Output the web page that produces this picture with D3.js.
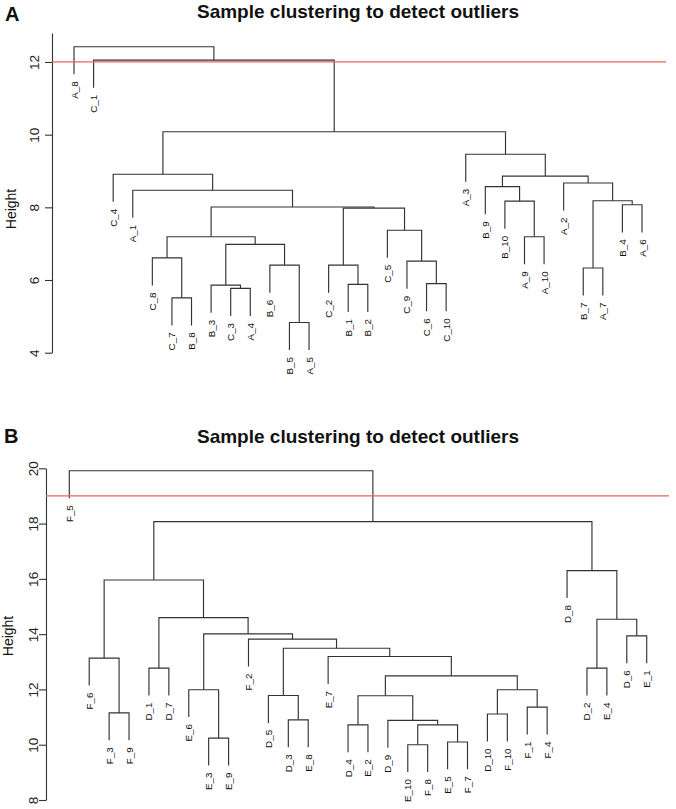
<!DOCTYPE html>
<html>
<head>
<meta charset="utf-8">
<script src="https://cdn.jsdelivr.net/npm/d3@7"></script>
<style>
  html, body { margin: 0; padding: 0; background: #fff; }
  svg { display: block; font-family: "Liberation Sans", Arial, sans-serif; }
</style>
</head>
<body>
<svg id="chart" width="676" height="809"></svg>
<script>
// ---------------- Data ----------------
const titleText = "Sample clustering to detect outliers";
const yLabel = "Height";

// Panel A
const leavesA = ["A_8","C_1","C_4","A_1","C_8","C_7","B_8","B_3","C_3","A_4","B_6","B_5","A_5",
  "C_2","B_1","B_2","C_5","C_9","C_6","C_10","A_3","B_9","B_10","A_9","A_10","A_2","B_7","A_7","B_4","A_6"];
const mergesA = [
  ["B_5","A_5"], ["C_7","B_8"], ["C_3","A_4"], ["B_3",2], ["B_1","B_2"], ["C_6","C_10"],
  ["A_9","A_10"], ["B_7","A_7"], ["C_2",4], ["B_6",0], ["C_9",5], ["C_8",1],
  [3,9], [11,12], ["C_5",10], [8,14], [13,15], ["A_1",16], ["C_4",17],
  ["B_4","A_6"], [7,19], ["A_2",20], ["B_10",6], ["B_9",22], [23,21], ["A_3",24],
  [18,25], ["C_1",26], ["A_8",27]
];
const heightsA = [
  4.83, 5.51, 5.77, 5.86, 5.88, 5.90,
  7.19, 6.33, 6.41, 6.41, 6.52, 6.61,
  6.98, 7.19, 7.37, 7.98, 8.01, 8.47, 8.91,
  8.07, 8.18, 8.67, 8.17, 8.57, 8.86, 9.46,
  10.08, 12.05, 12.42
];
const ticksA = [4, 6, 8, 10, 12];
const cutA = 12;

// Panel B
const leavesB = ["F_5","F_6","F_3","F_9","D_1","D_7","E_6","E_3","E_9","F_2","D_5","D_3","E_8","E_7",
  "D_4","E_2","D_9","E_10","F_8","E_5","F_7","D_10","F_10","F_1","F_4","D_8","D_2","E_4","D_6","E_1"];
const mergesB = [
  ["F_3","F_9"], ["F_6",0], ["D_1","D_7"], ["E_3","E_9"], ["E_6",3], ["D_3","E_8"],
  ["D_5",5], ["D_4","E_2"], ["E_10","F_8"], ["E_5","F_7"], [8,9], ["D_9",10],
  [7,11], ["D_10","F_10"], ["F_1","F_4"], [13,14], [12,15], ["E_7",16], [6,17],
  ["F_2",18], [4,19], [2,20], [1,21], ["D_2","E_4"], ["D_6","E_1"], [23,24],
  ["D_8",25], [22,26], ["F_5",27]
];
const heightsB = [
  11.15, 13.13, 12.77, 10.24, 11.99, 10.90,
  11.78, 10.72, 10.00, 10.10, 10.72, 10.88,
  11.77, 11.11, 11.36, 11.99, 12.49, 13.19, 13.49,
  13.82, 14.01, 14.60, 15.96, 12.77, 13.94, 14.54,
  16.30, 18.07, 19.91
];
const ticksB = [8, 10, 12, 14, 16, 18, 20];
const cutB = 19;

// ---------------- Drawing ----------------
const svg = d3.select("#chart");
svg.append("rect").attr("width", 676).attr("height", 809).attr("fill", "#fff");

function drawPanel(cfg) {
  const g = svg.append("g");
  const x = d3.scalePoint().domain(cfg.leaves).range(cfg.xRange);
  const y = d3.scaleLinear().domain(cfg.yDomain).range(cfg.yRange);
  const hang = 0.1 * (d3.max(cfg.heights) - d3.min(cfg.heights));

  const nodeX = [];
  const childX = c => (typeof c === "string") ? x(c) : nodeX[c];
  cfg.merges.forEach((m, i) => { nodeX[i] = (childX(m[0]) + childX(m[1])) / 2; });

  const childY = (c, h) => (typeof c === "string") ? y(h - hang) : y(cfg.heights[c]);

  const lines = g.append("g").attr("fill", "none").attr("stroke", "#333").attr("stroke-width", 1.15);
  cfg.merges.forEach((m, i) => {
    const h = cfg.heights[i];
    const p = d3.path();
    p.moveTo(childX(m[0]), childY(m[0], h));
    p.lineTo(childX(m[0]), y(h));
    p.lineTo(childX(m[1]), y(h));
    p.lineTo(childX(m[1]), childY(m[1], h));
    lines.append("path").attr("d", p.toString());
  });

  const leafParentH = {};
  cfg.merges.forEach((m, i) => m.forEach(c => { if (typeof c === "string") leafParentH[c] = cfg.heights[i]; }));
  g.append("g").selectAll("text").data(cfg.leaves).join("text")
    .attr("transform", d => `translate(${x(d)},${y(leafParentH[d] - hang) + cfg.labelGap}) rotate(-90)`)
    .attr("text-anchor", "end")
    .attr("dominant-baseline", "central")
    .attr("font-size", 9.8)
    .attr("fill", "#111")
    .text(d => d);

  const axis = d3.axisLeft(y).tickValues(cfg.ticks).tickSize(7).tickSizeOuter(0).tickFormat(d3.format("d"));
  const ax = g.append("g").attr("transform", `translate(${cfg.axisX},0)`).call(axis);
  ax.select(".domain").attr("stroke", "#333").attr("stroke-width", 1.1);
  ax.selectAll(".tick line").attr("stroke", "#333").attr("stroke-width", 1.1);
  ax.selectAll(".tick text")
    .attr("x", 0).attr("y", 0).attr("dy", null)
    .attr("transform", `translate(${cfg.tickLabelX - cfg.axisX},0) rotate(-90)`)
    .attr("text-anchor", "middle")
    .attr("dominant-baseline", "central")
    .attr("font-size", 13.5)
    .attr("font-family", "Liberation Sans, Arial, sans-serif")
    .attr("fill", "#222");

  g.append("line")
    .attr("x1", cfg.axisX).attr("x2", cfg.cutX2)
    .attr("y1", y(cfg.cut)).attr("y2", y(cfg.cut))
    .attr("stroke", "#e5655f").attr("stroke-width", 1.3);

  g.append("text")
    .attr("transform", `translate(${cfg.yLabelX},${cfg.yLabelY}) rotate(-90)`)
    .attr("text-anchor", "middle")
    .attr("dominant-baseline", "central")
    .attr("font-size", 14)
    .attr("fill", "#111")
    .text(yLabel);

  g.append("text")
    .attr("x", cfg.titleX).attr("y", cfg.titleY)
    .attr("text-anchor", "middle")
    .attr("font-size", 19).attr("font-weight", "bold")
    .attr("fill", "#111")
    .text(titleText);

  g.append("text")
    .attr("x", cfg.letterX).attr("y", cfg.letterY)
    .attr("font-size", 20).attr("font-weight", "bold")
    .attr("fill", "#111")
    .text(cfg.letter);
}

drawPanel({
  leaves: leavesA, merges: mergesA, heights: heightsA, ticks: ticksA, cut: cutA,
  xRange: [74, 642], yDomain: [4, 12.8], yRange: [352.7, 32.9],
  axisX: 52, tickLabelX: 34, cutX2: 666, labelGap: 7,
  yLabelX: 11, yLabelY: 209,
  titleX: 358, titleY: 18, letter: "A", letterX: 5, letterY: 21
});

drawPanel({
  leaves: leavesB, merges: mergesB, heights: heightsB, ticks: ticksB, cut: cutB,
  xRange: [69.3, 646.7], yDomain: [8, 20], yRange: [800, 468.3],
  axisX: 46, tickLabelX: 33, cutX2: 669, labelGap: 7,
  yLabelX: 8, yLabelY: 636,
  titleX: 358, titleY: 443, letter: "B", letterX: 4, letterY: 443
});
</script>
</body>
</html>
